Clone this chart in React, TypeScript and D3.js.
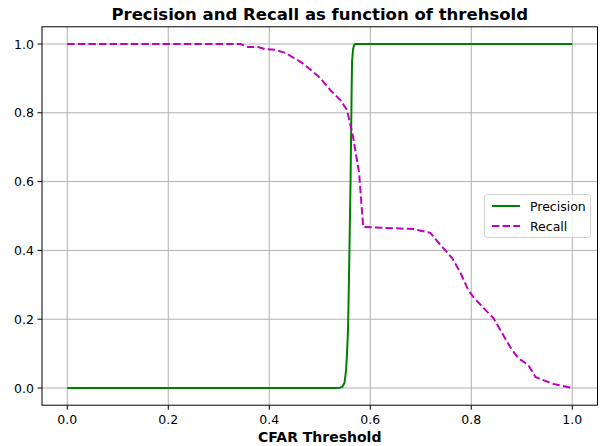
import React from "react";
import * as d3 from "d3";

const precisionX = [0, 0.5, 0.53, 0.54, 0.545, 0.549, 0.552, 0.554, 0.556, 0.558, 0.561, 0.563, 0.564, 0.566, 0.568, 0.57, 0.6, 0.8, 1.0];
const precisionY = [0, 0, 0, 0.001, 0.004, 0.015, 0.05, 0.1, 0.17, 0.33, 0.6, 0.85, 0.95, 0.985, 0.997, 1, 1, 1, 1];

const recallX = [0, 0.343, 0.358, 0.378, 0.392, 0.412, 0.432, 0.446, 0.465, 0.487, 0.501, 0.521, 0.541, 0.554, 0.566, 0.572, 0.578, 0.586, 0.685, 0.719, 0.739, 0.762, 0.778, 0.794, 0.804, 0.824, 0.844, 0.861, 0.877, 0.893, 0.913, 0.927, 0.937, 0.962, 1.0];
const recallY = [1, 1, 0.991, 0.991, 0.985, 0.983, 0.974, 0.962, 0.945, 0.919, 0.901, 0.866, 0.837, 0.808, 0.73, 0.677, 0.625, 0.468, 0.462, 0.451, 0.416, 0.378, 0.337, 0.285, 0.265, 0.233, 0.203, 0.16, 0.119, 0.087, 0.067, 0.032, 0.026, 0.012, 0.0];

const xTicks = [0, 0.2, 0.4, 0.6, 0.8, 1.0];
const yTicks = [0, 0.2, 0.4, 0.6, 0.8, 1.0];

const title = "Precision and Recall as function of threhsold";
const xLabel = "CFAR Threshold";
const seriesNames = ["Precision", "Recall"];

export default function App() {
  const W = 600, H = 446;
  const left = 42, right = 597.5, top = 26.8, bottom = 405.2;
  const x = d3.scaleLinear().domain([-0.05, 1.05]).range([left, right]);
  const y = d3.scaleLinear().domain([-0.05, 1.05]).range([bottom, top]);
  const line = d3.line<[number, number]>().x(d => x(d[0])).y(d => y(d[1]));
  const pData: [number, number][] = precisionX.map((v, i) => [v, precisionY[i]]);
  const rData: [number, number][] = recallX.map((v, i) => [v, recallY[i]]);
  const font = "DejaVu Sans, sans-serif";
  const fmt = d3.format(".1f");
  return (
    <svg width={W} height={H} style={{ position: "absolute", left: 0, top: 0 }} fontFamily={font}>
      <rect x={0} y={0} width={W} height={H} fill="#fff" />
      <text x={(left + right) / 2} y={20} textAnchor="middle" fontSize={16.5} fontWeight="bold">{title}</text>
      <defs>
        <clipPath id="clip"><rect x={left} y={top} width={right - left} height={bottom - top} /></clipPath>
      </defs>
      {xTicks.map(t => (
        <g key={"x" + t}>
          <line x1={x(t)} x2={x(t)} y1={top} y2={bottom} stroke="#b0b0b0" strokeWidth={1} />
          <line x1={x(t)} x2={x(t)} y1={bottom} y2={bottom + 4.5} stroke="#000" strokeWidth={1} />
          <text x={x(t)} y={bottom + 19} textAnchor="middle" fontSize={12.5}>{fmt(t)}</text>
        </g>
      ))}
      {yTicks.map(t => (
        <g key={"y" + t}>
          <line x1={left} x2={right} y1={y(t)} y2={y(t)} stroke="#b0b0b0" strokeWidth={1} />
          <line x1={left - 4.5} x2={left} y1={y(t)} y2={y(t)} stroke="#000" strokeWidth={1} />
          <text x={left - 8} y={y(t) + 4.5} textAnchor="end" fontSize={12.5}>{fmt(t)}</text>
        </g>
      ))}
      <g clipPath="url(#clip)">
        <path d={line(pData) || ""} fill="none" stroke="#008000" strokeWidth={2} />
        <path d={line(rData) || ""} fill="none" stroke="#bf00bf" strokeWidth={2} strokeDasharray="7.4,3.2" />
      </g>
      <rect x={left} y={top} width={right - left} height={bottom - top} fill="none" stroke="#000" strokeWidth={1} />
      <text x={(left + right) / 2} y={442} textAnchor="middle" fontSize={14} fontWeight="bold">{xLabel}</text>
      <g>
        <rect x={484.5} y={194.5} width={106} height={43} rx={3} fill="#fff" fillOpacity={0.8} stroke="#d0d0d0" strokeWidth={1} />
        <line x1={492} x2={520} y1={206} y2={206} stroke="#008000" strokeWidth={2} />
        <text x={530} y={210.5} fontSize={12.5}>{seriesNames[0]}</text>
        <line x1={492} x2={520} y1={226} y2={226} stroke="#bf00bf" strokeWidth={2} strokeDasharray="7.4,3.2" />
        <text x={530} y={230.5} fontSize={12.5}>{seriesNames[1]}</text>
      </g>
    </svg>
  );
}
